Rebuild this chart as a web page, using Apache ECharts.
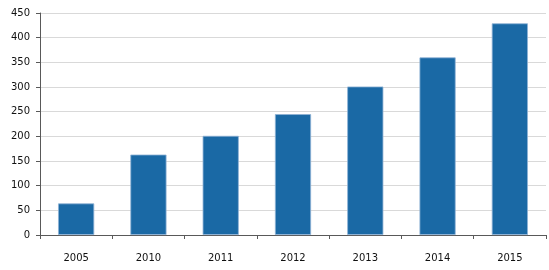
<!DOCTYPE html>
<html><head><meta charset="utf-8">
<script src="https://cdn.jsdelivr.net/npm/echarts@6/dist/echarts.min.js"></script>
<style>html,body{margin:0;padding:0;background:#fff}#c{width:549px;height:270px}</style>
</head><body><div id="c"></div>
<script>
const categories = ['2005','2010','2011','2012','2013','2014','2015'];
const values = [64, 163, 201, 245, 301, 360, 429];
const yTicks = [0, 50, 100, 150, 200, 250, 300, 350, 400, 450];

const chart = echarts.init(document.getElementById('c'), null, {renderer:'canvas'});
chart.setOption({
  animation:false,
  grid:{left:40,right:3,top:13,bottom:35,containLabel:false},
  xAxis:{
    type:'category', data:categories,
    axisLine:{lineStyle:{color:'#595959',width:1}},
    axisTick:{show:true,alignWithLabel:false,length:4,lineStyle:{color:'#595959'}},
    axisLabel:{color:'#111',fontFamily:'DejaVu Sans',fontSize:10,margin:18}
  },
  yAxis:{
    type:'value', min:yTicks[0], max:yTicks[yTicks.length-1], interval:50,
    axisLine:{show:true,lineStyle:{color:'#595959',width:1}},
    axisTick:{show:true,length:4,lineStyle:{color:'#595959'}},
    axisLabel:{color:'#111',fontFamily:'DejaVu Sans',fontSize:10,margin:10},
    splitLine:{lineStyle:{color:'#d9d9d9',width:1}}
  },
  series:[{
    type:'bar', data:values, barWidth:'50%',
    itemStyle:{color:'#1a69a5',borderColor:'#8fb3d6',borderWidth:0.8}
  }]
});
</script></body></html>
